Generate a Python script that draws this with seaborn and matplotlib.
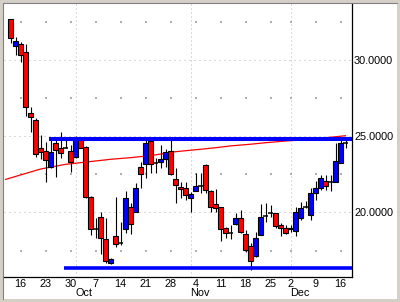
import numpy as np
import pandas as pd
import matplotlib
matplotlib.use("Agg")
import matplotlib.pyplot as plt
import matplotlib.transforms as mtransforms
from matplotlib.patches import Rectangle
from matplotlib.lines import Line2D
import seaborn as sns

# ---------------- data ----------------
first_day = "2002-09-11"
last_day = "2002-12-17"
holidays = ["2002-11-28"]

open_ = [32.69, 30.91, 31.06, 30.52, 26.51, 26.07, 24.23, 24.03, 23.00, 24.54,
         24.21, 24.25, 24.03, 23.62, 24.82, 24.28, 20.99, 18.90, 19.68, 18.23,
         16.68, 18.45, 18.01, 18.89, 20.34, 20.00, 22.96, 23.16, 24.69, 23.27,
         23.29, 23.49, 24.03, 22.17, 21.70, 21.60, 20.98, 21.43, 21.73, 23.11,
         21.41, 20.53, 20.34, 18.96, 18.67, 19.24, 19.66, 18.56, 17.81, 17.12,
         18.52, 19.78, 19.94, 19.94, 19.17, 19.00, 19.00, 18.78, 19.61, 20.37,
         19.83, 21.25, 21.58, 22.08, 22.03, 21.98, 23.23, 24.54]
high = [32.69, 31.50, 31.18, 31.06, 26.91, 26.20, 25.07, 24.65, 24.82, 24.97,
        25.26, 24.97, 24.43, 25.00, 24.91, 24.36, 21.08, 19.61, 20.02, 19.61,
        17.00, 21.03, 19.40, 21.41, 20.64, 21.91, 23.31, 24.89, 24.95, 23.60,
        24.43, 24.17, 24.97, 22.90, 22.00, 21.99, 21.34, 22.57, 22.57, 23.18,
        21.47, 21.52, 20.36, 19.04, 19.15, 19.94, 20.15, 18.84, 17.97, 18.73,
        20.54, 20.64, 20.47, 19.96, 19.30, 19.17, 19.20, 20.37, 20.68, 20.74,
        21.58, 22.06, 22.46, 22.46, 22.46, 24.54, 24.82, 24.89]
low = [31.11, 30.34, 29.90, 26.35, 25.30, 23.62, 23.49, 22.02, 22.90, 22.35,
       23.55, 24.23, 22.67, 23.57, 24.20, 20.97, 18.51, 18.30, 17.27, 16.66,
       16.60, 17.75, 17.86, 18.63, 18.56, 20.00, 21.62, 22.24, 22.61, 22.61,
       22.92, 23.00, 22.46, 20.60, 20.98, 20.81, 20.03, 21.40, 21.25, 21.29,
       20.05, 20.05, 18.15, 18.29, 18.25, 19.17, 18.65, 17.42, 16.22, 17.07,
       18.52, 19.40, 19.72, 18.96, 18.45, 18.58, 18.73, 18.48, 19.50, 20.28,
       19.50, 20.81, 21.47, 21.50, 21.44, 21.98, 23.23, 24.20]
close = [31.44, 31.24, 30.32, 26.94, 26.29, 23.82, 23.99, 23.44, 23.97, 24.10,
         23.88, 24.25, 23.33, 24.87, 24.25, 21.03, 18.89, 18.90, 18.30, 16.81,
         16.94, 17.90, 18.01, 20.93, 19.22, 21.58, 22.50, 24.56, 23.16, 23.27,
         23.49, 23.97, 22.50, 21.78, 21.52, 21.14, 21.21, 21.73, 21.73, 21.45,
         20.34, 20.27, 18.94, 18.63, 18.67, 19.61, 18.69, 17.53, 16.81, 18.35,
         19.68, 19.78, 19.94, 19.11, 18.96, 18.63, 18.88, 20.00, 20.32, 20.37,
         21.25, 21.58, 22.24, 21.75, 22.03, 23.36, 24.54, 24.54]

ma_dates = ["2002-09-11", "2002-09-16", "2002-09-20", "2002-09-27", "2002-10-07",
            "2002-10-10", "2002-10-16", "2002-10-22", "2002-10-29", "2002-11-05",
            "2002-11-08", "2002-11-13", "2002-11-19", "2002-11-22", "2002-11-29",
            "2002-12-04", "2002-12-13", "2002-12-17"]
ma_values = [22.17, 22.46, 22.85, 23.16, 23.38, 23.49, 23.60, 23.73, 23.99, 24.15,
             24.25, 24.37, 24.48, 24.58, 24.69, 24.76, 24.97, 25.04]

resistance_level = 24.84
resistance_start = "2002-09-24"
support_level = 16.37
support_start = "2002-09-27"

y_ticks = [20, 25, 30]
y_minor = [17.5, 22.5, 27.5, 32.5]

# ---------------- trading-day axis ----------------
days = pd.bdate_range(first_day, last_day)
days = days[~days.isin(pd.to_datetime(holidays))]
pos_of = {d: i - 1 for i, d in enumerate(days)}   # first day (pre-data) sits at -1
cdates = days[1:]
cpos = np.array([pos_of[d] for d in cdates])

week_starts = [d for d in cdates if d.weekday() == 0]
month_starts = [d for k, d in enumerate(cdates) if k > 0 and d.month != cdates[k - 1].month]

# ---------------- figure ----------------
sns.set_style("white")
plt.rcParams["font.family"] = ["Liberation Sans", "DejaVu Sans"]
W, H = 400, 302
fig = plt.figure(figsize=(W / 100, H / 100), dpi=100, facecolor="#d4d0c8")
fig.patches.append(Rectangle((3 / W, 3 / H), 394 / W, 296 / H, transform=fig.transFigure,
                             facecolor="white", edgecolor="none", zorder=-10))
fig.add_artist(Line2D([3 / W, 3 / W], [3 / H, 299 / H], color="#808080", lw=0.8,
                      transform=fig.transFigure, zorder=-5))
fig.add_artist(Line2D([3 / W, 397 / W], [299 / H, 299 / H], color="#808080", lw=0.8,
                      transform=fig.transFigure, zorder=-5))

ax = fig.add_axes([4 / W, 25 / H, 348 / W, 273 / H])
ax.set_zorder(5)
ax.patch.set_visible(False)
ax.set_xlim(-1.3, 68.3)
ax.set_ylim(15.76, 33.69)

# grid
for v in y_ticks:
    ax.axhline(v, color="#b8b8b8", lw=0.72, ls=(0, (1, 4)), zorder=0)
for d in month_starts:
    ax.axvline(pos_of[d], color="#b8b8b8", lw=0.72, ls=(0, (1, 3)), zorder=0)
wx = [pos_of[d] for d in week_starts]
gx, gy = np.meshgrid(wx, y_minor)
ax.scatter(gx.ravel(), gy.ravel(), s=0.6, marker="s", color="#b0b0b0", linewidths=0, zorder=0)

# moving average
ma_pos = [pos_of[pd.Timestamp(d)] for d in ma_dates]
sns.lineplot(x=ma_pos, y=ma_values, color="#ff0000", lw=0.9, ax=ax, zorder=2)

# candles
o = np.array(open_); c = np.array(close); hi = np.array(high); lo = np.array(low)
ax.vlines(cpos, lo, hi, color="black", lw=0.8, zorder=3)
up = c > o
dn = c < o
dj = c == o
ax.bar(cpos[up], (c - o)[up], bottom=o[up], width=0.86, color="#0000ff",
       edgecolor="black", linewidth=0.8, zorder=4)
ax.bar(cpos[dn], (c - o)[dn], bottom=o[dn], width=0.86, color="#ff0000",
       edgecolor="black", linewidth=0.8, zorder=4)
ax.hlines(c[dj], cpos[dj] - 0.5, cpos[dj] + 0.5, color="black", lw=1.1, zorder=4)

# support / resistance lines
xr = ax.get_xlim()[1]
ax.hlines(resistance_level, pos_of[pd.Timestamp(resistance_start)] - 0.4, xr,
          color="#0000ff", lw=2.9, zorder=5)
ax.hlines(support_level, pos_of[pd.Timestamp(support_start)] - 0.4, xr,
          color="#0000ff", lw=2.6, zorder=5)

# axes styling
for s in ["top", "left"]:
    ax.spines[s].set_visible(False)
for s in ["right", "bottom"]:
    ax.spines[s].set_color("black")
    ax.spines[s].set_linewidth(0.9)
ax.yaxis.tick_right()
ax.set_yticks(y_ticks)
ax.set_yticklabels([f"{v:.4f}" for v in y_ticks])
ax.tick_params(axis="y", length=0, pad=1.5, labelsize=7.8, colors="black")
ax.set_xticks(wx)
ax.set_xticklabels([str(d.day) for d in week_starts])
ax.tick_params(axis="x", length=0, pad=1.5, labelsize=7.8, colors="black")
ax.set_xlabel(""); ax.set_ylabel("")

trans = mtransforms.blended_transform_factory(ax.transData, fig.transFigure)
for d in month_starts:
    ax.text(pos_of[d] - 0.1, (H - 293) / H, d.strftime("%b"), transform=trans,
            ha="left", va="center", fontsize=7.8, color="black")

fig.savefig("out.png", dpi=100, facecolor=fig.get_facecolor())
